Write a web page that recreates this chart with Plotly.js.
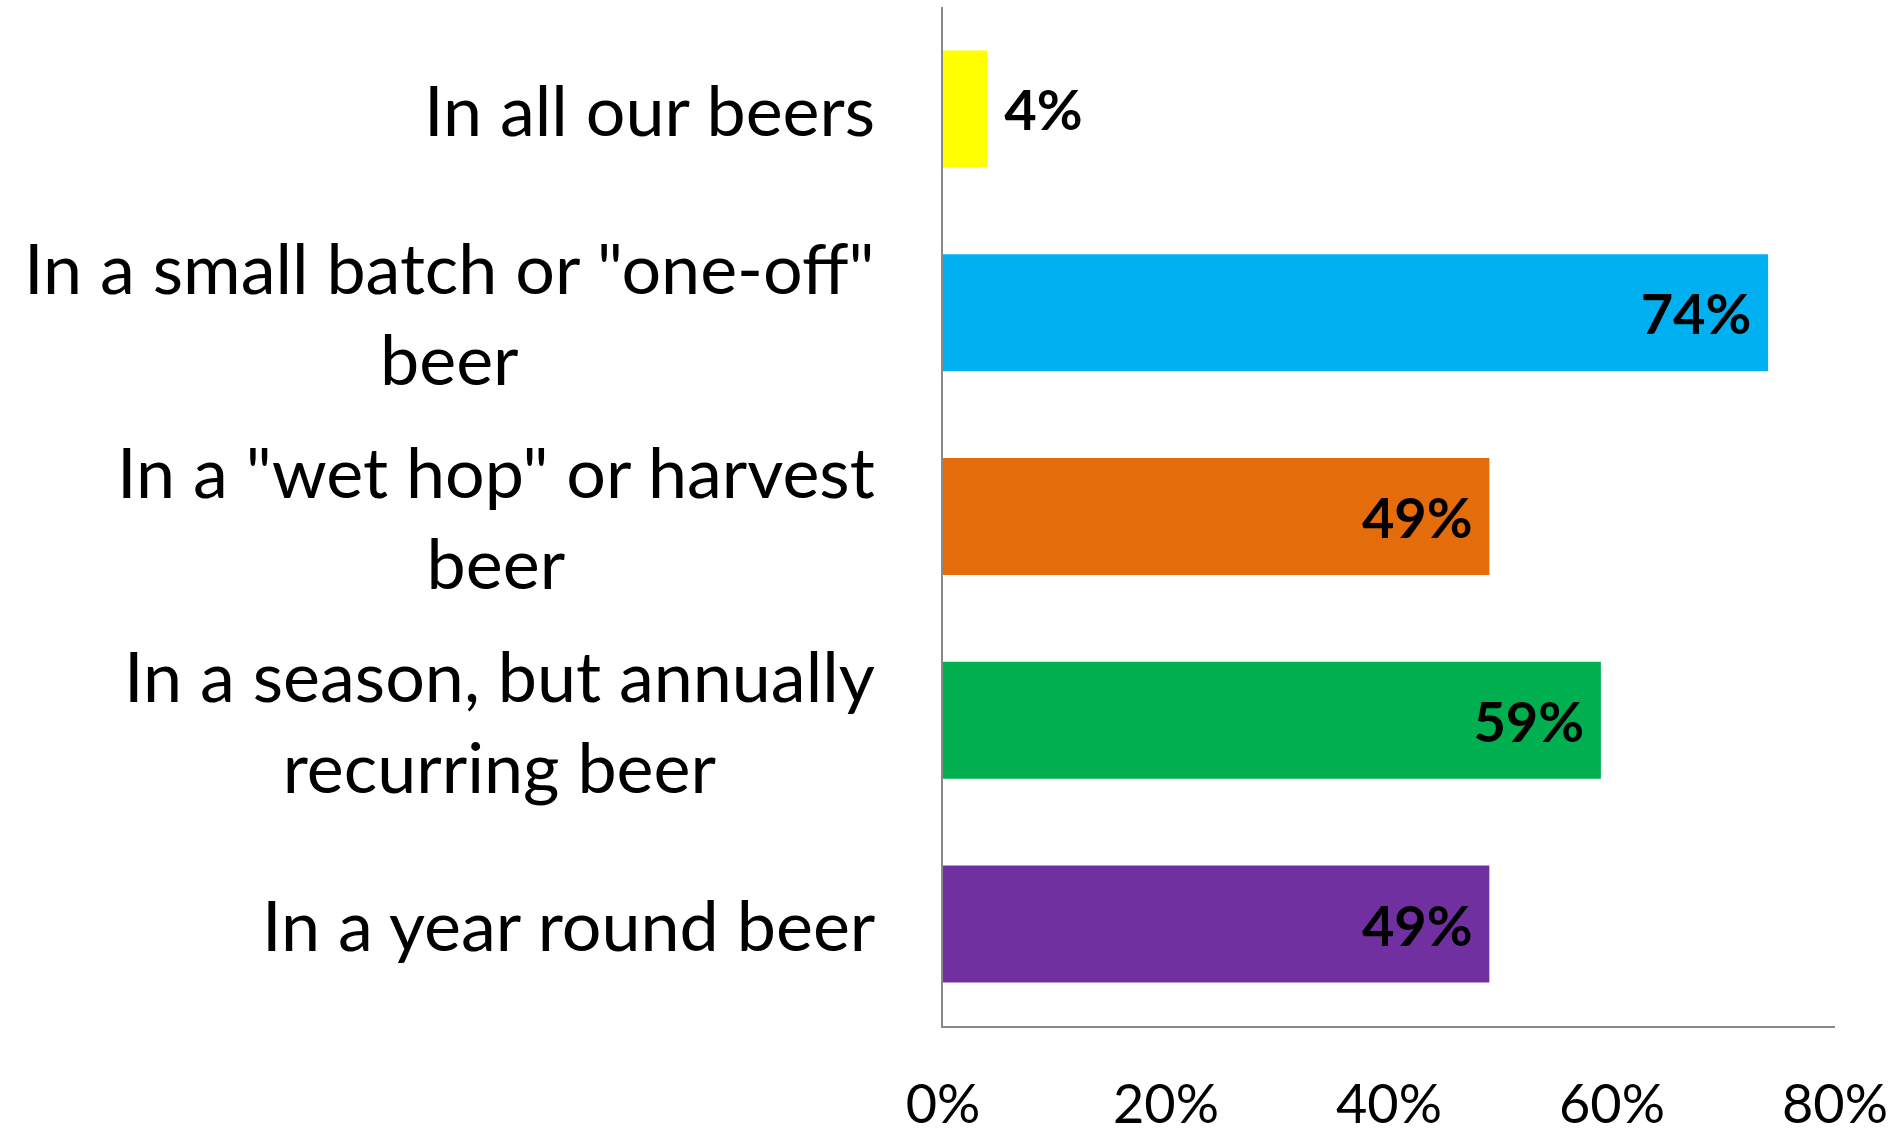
<!DOCTYPE html>
<html>
<head>
<meta charset="utf-8">
<script src="https://cdn.plot.ly/plotly-3.0.1.min.js"></script>
<style>html,body{margin:0;padding:0;background:#fff;}#chart{width:1897px;height:1134px;}</style>
</head>
<body>
<div id="chart"></div>
<script>
const categories = [
  'In all our beers',
  'In a small batch or "one-off"<br>beer',
  'In a "wet hop" or harvest<br>beer',
  'In a season, but annually<br>recurring beer',
  'In a year round beer'
];
const values = [4, 74, 49, 59, 49];
const barColors = ['#FFFF00', '#00B0F0', '#E46C0A', '#00B050', '#7030A0'];
const labelPositions = ['outside', 'inside', 'inside', 'inside', 'inside'];
const xTickVals = [0, 20, 40, 60, 80];
const xTickText = ['0%', '20%', '40%', '60%', '80%'];

const FONT = 'Lato, "Open Sans", sans-serif';
const idx = categories.map((_, i) => i);
const labels = values.map((v, i) => labelPositions[i] === 'outside'
  ? '\u00a0' + v + '%'
  : v + '%\u00a0');

const trace = {
  type: 'bar',
  orientation: 'h',
  y: idx,
  x: values,
  marker: {color: barColors},
  width: 0.574,
  text: labels,
  textposition: labelPositions,
  insidetextanchor: 'end',
  textfont: {family: FONT, size: 56, color: '#000000', weight: 'bold'},
  insidetextfont: {family: FONT, size: 56, color: '#000000', weight: 'bold'},
  outsidetextfont: {family: FONT, size: 56, color: '#000000', weight: 'bold'},
  constraintext: 'none',
  cliponaxis: false,
  hoverinfo: 'skip'
};

const annotations = categories.map((c, i) => ({
  xref: 'paper', yref: 'y',
  x: 0, y: i,
  xanchor: 'right', yanchor: 'middle',
  xshift: -66,
  align: 'center',
  showarrow: false,
  text: c,
  font: {family: FONT, size: 70, color: '#000000'}
}));

const layout = {
  width: 1897, height: 1134,
  margin: {l: 943, r: 62, t: 7, b: 108, pad: 0},
  paper_bgcolor: '#ffffff', plot_bgcolor: '#ffffff',
  showlegend: false,
  bargap: 0.43,
  xaxis: {
    range: [0, 80],
    tickvals: xTickVals,
    ticktext: xTickText,
    showgrid: false,
    zeroline: false,
    showline: true,
    linecolor: '#898989',
    linewidth: 2,
    ticks: '',
    ticklabelstandoff: 30,
    tickfont: {family: FONT, size: 54, color: '#000000'},
    fixedrange: true
  },
  yaxis: {
    range: [4.5, -0.5],
    tickvals: idx,
    showticklabels: false,
    showgrid: false,
    zeroline: false,
    showline: true,
    linecolor: '#898989',
    linewidth: 2,
    ticks: '',
    fixedrange: true
  },
  annotations: annotations
};

Plotly.newPlot('chart', [trace], layout, {displayModeBar: false, staticPlot: true});
</script>
</body>
</html>
